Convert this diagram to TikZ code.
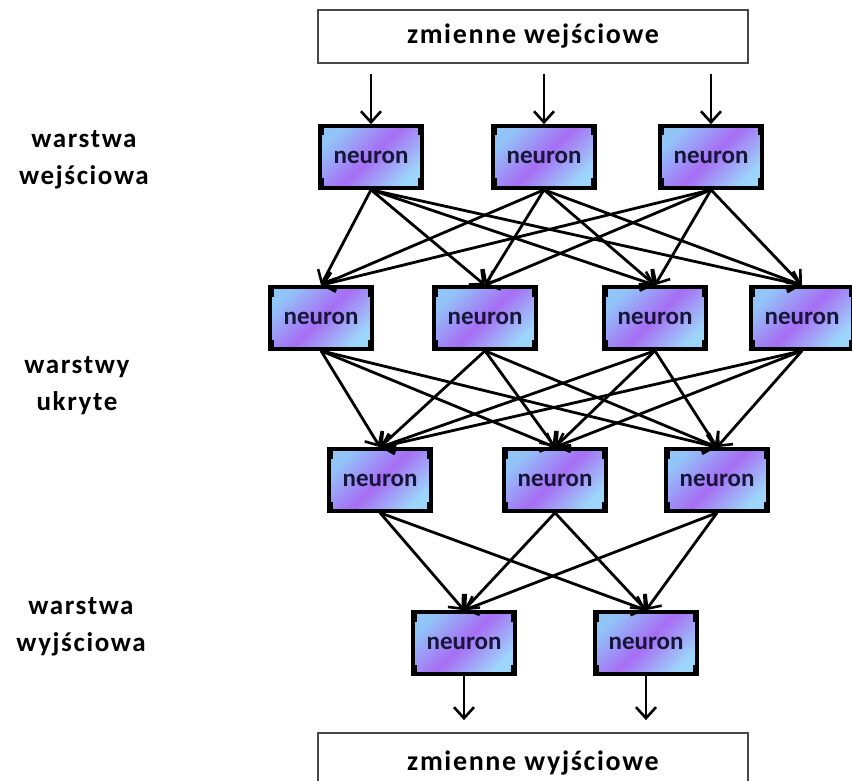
\documentclass[tikz,border=0pt]{standalone}
\usepackage{fontspec}
\setmainfont{Carlito}
\newfontfamily\spacedfont{Carlito}[LetterSpace=6]
\usetikzlibrary{arrows.meta}

\definecolor{nbluea}{RGB}{146,196,248}
\definecolor{npurple}{RGB}{166,110,244}
\definecolor{nblueb}{RGB}{156,214,250}
\definecolor{ntext}{RGB}{22,22,58}
\definecolor{ioframe}{RGB}{72,72,72}

\tikzset{
  neuron/.style={
    draw=black, line width=3.6pt, rectangle,
    minimum width=102pt, minimum height=62pt,
    top color=nbluea, bottom color=nblueb, middle color=npurple,
    shading angle=45,
    font=\bfseries\fontsize{25}{29}\selectfont, text=ntext,
    path picture={
      \fill[black] ([xshift=1.5pt,yshift=-1.5pt]path picture bounding box.north west) rectangle ++(2.5pt,-8pt);
      \fill[black] ([xshift=-1.5pt,yshift=-1.5pt]path picture bounding box.north east) rectangle ++(-2.5pt,-8pt);
      \fill[black] ([xshift=1.5pt,yshift=1.5pt]path picture bounding box.south west) rectangle ++(2.5pt,8pt);
      \fill[black] ([xshift=-1.5pt,yshift=1.5pt]path picture bounding box.south east) rectangle ++(-2.5pt,8pt);
    }
  },
  iobox/.style={
    draw=ioframe, line width=1.8pt, rectangle, fill=white,
    minimum width=430pt, inner sep=0pt,
    font=\spacedfont\bfseries\fontsize{28}{32}\selectfont
  },
  layerlabel/.style={
    align=center, font=\spacedfont\bfseries\fontsize{27}{37}\selectfont
  },
  link/.style={
    draw=black, line width=2.8pt,
    -{Straight Barb[length=11pt,width=20pt,line width=2.6pt]}
  }
}

\begin{document}
\begin{tikzpicture}[x=1pt,y=-1pt]
  \useasboundingbox (0,0) rectangle (852,781);
  \clip (0,0) rectangle (852,781);

  % input and output variable boxes
  \node[iobox, minimum height=53pt] (inp) at (533,36.5) {zmienne wejściowe};
  \node[iobox, minimum height=60pt] (outp) at (533,763) {zmienne wyjściowe};

  % input layer
  \node[neuron] (a1) at (371,157) {neuron};
  \node[neuron] (a2) at (544,157) {neuron};
  \node[neuron] (a3) at (711,157) {neuron};

  % hidden layers
  \node[neuron] (b1) at (321,318) {neuron};
  \node[neuron] (b2) at (485,318) {neuron};
  \node[neuron] (b3) at (655,318) {neuron};
  \node[neuron] (b4) at (802,318) {neuron};

  \node[neuron] (c1) at (380,480) {neuron};
  \node[neuron] (c2) at (555,480) {neuron};
  \node[neuron] (c3) at (717,480) {neuron};

  % output layer
  \node[neuron] (d1) at (464,643) {neuron};
  \node[neuron] (d2) at (646,643) {neuron};

  % layer captions
  \node[layerlabel] (l1) at (84,160) {warstwa\\wejściowa};
  \node[layerlabel] (l2) at (77,386) {warstwy\\ukryte};
  \node[layerlabel] (l3) at (81,627) {warstwa\\wyjściowa};

  % inputs feeding the first layer
  \foreach \n in {a1,a2,a3}
    \draw[link] ([yshift=-10pt]inp.south -| \n.north) -- (\n.north);

  % full connections between consecutive layers
  \foreach \s in {a1,a2,a3}
    \foreach \t in {b1,b2,b3,b4}
      \draw[link] (\s.south) -- (\t.north);
  \foreach \s in {b1,b2,b3,b4}
    \foreach \t in {c1,c2,c3}
      \draw[link] (\s.south) -- (\t.north);
  \foreach \s in {c1,c2,c3}
    \foreach \t in {d1,d2}
      \draw[link] (\s.south) -- (\t.north);

  % outputs
  \foreach \n in {d1,d2}
    \draw[link] (\n.south) -- ([yshift=12pt]outp.north -| \n.south);
\end{tikzpicture}
\end{document}
